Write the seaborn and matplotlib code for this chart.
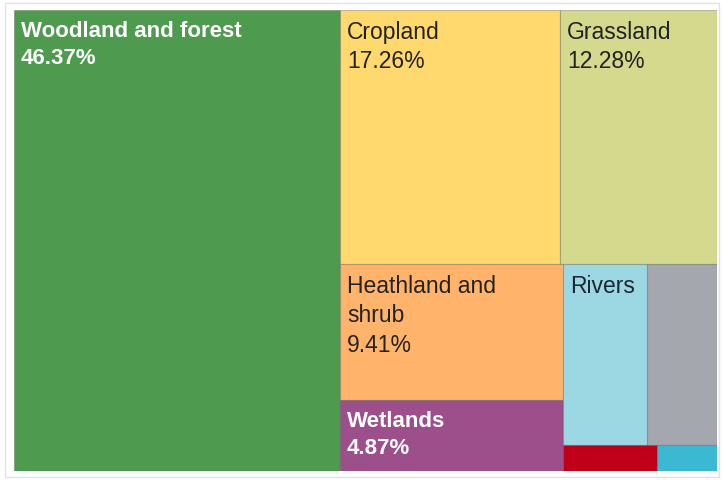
import matplotlib
matplotlib.use("Agg")
import matplotlib.pyplot as plt
from matplotlib.patches import Rectangle
import seaborn as sns

# Habitat shares (% of total area), largest first
habitats = ["Woodland and forest", "Cropland", "Grassland", "Heathland and\nshrub",
            "Wetlands", "Rivers", "Urban", "Bare ground", "Open water"]
shares = [46.37, 17.26, 12.28, 9.41, 4.87, 4.66, 3.92, 0.75, 0.48]
tile_colors = ["#4e9a4f", "#ffd96e", "#d5d98e", "#ffb36b", "#9c4f8a",
               "#9bd8e3", "#a4a7ae", "#c00019", "#3cb9d2"]
text_colors = ["#ffffff", "#222222", "#222222", "#222222", "#ffffff",
               "#1f2733", "#222222", "#222222", "#222222"]
# what each tile prints: name and percentage, name only, or nothing
label_content = ["both", "both", "both", "both", "both", "name", "none", "none", "none"]


def squarify(values, x0, y0, x1, y1, ratio):
    """Squarified treemap (Bruls et al.) with a target aspect ratio."""
    rects = []
    n = len(values)
    remaining = float(sum(values))
    i0 = 0
    while i0 < n:
        dx, dy = x1 - x0, y1 - y0
        i1 = i0 + 1
        s = values[i0]
        vmin = vmax = s
        alpha = max(dy / dx, dx / dy) / (remaining * ratio)
        beta = s * s * alpha
        best = max(vmax / beta, beta / vmin)
        while i1 < n:
            v = values[i1]
            s2 = s + v
            lo, hi = min(vmin, v), max(vmax, v)
            beta = s2 * s2 * alpha
            score = max(hi / beta, beta / lo)
            if score > best:
                break
            s, vmin, vmax, best = s2, lo, hi, score
            i1 += 1
        row = values[i0:i1]
        if dx < dy:
            # strip across the top, split along x
            y_end = y0 + dy * s / remaining if i1 < n else y1
            xx = x0
            for v in row:
                w = dx * v / s
                rects.append((xx, y0, w, y_end - y0))
                xx += w
            y0 = y_end
        else:
            # column on the left, split along y
            x_end = x0 + dx * s / remaining if i1 < n else x1
            yy = y0
            for v in row:
                h = dy * v / s
                rects.append((x0, yy, x_end - x0, h))
                yy += h
            x0 = x_end
        remaining -= s
        i0 = i1
    return rects


sns.set_theme(style="white")
plt.rcParams["font.family"] = ["Liberation Sans", "DejaVu Sans"]
palette = sns.color_palette(tile_colors)

W_PX, H_PX = 722, 481
fig = plt.figure(figsize=(W_PX / 100, H_PX / 100), dpi=100)
fig.patch.set_facecolor("white")

# plotting region in pixels
left, top, right, bottom = 14, 11, 717, 472
pw, ph = right - left, bottom - top
ax = fig.add_axes([left / W_PX, 1 - bottom / H_PX, pw / W_PX, ph / H_PX])
ax.set_xlim(0, pw)
ax.set_ylim(ph, 0)
ax.set_axis_off()

tiles = squarify(shares, 0, 0, pw, ph, ratio=1.55)

for (x, y, w, h), name, share, col, tcol, mode in zip(
        tiles, habitats, shares, palette, text_colors, label_content):
    ax.add_patch(Rectangle((x, y), w, h, facecolor=col,
                           edgecolor=(0.35, 0.35, 0.3, 0.35), linewidth=0.8))
    if mode == "none":
        continue
    text = name if mode == "name" else f"{name}\n{share:.2f}%"
    bold = tcol == "#ffffff"
    ax.text(x + 7, y + 10, text, color=tcol,
            fontsize=16.0 if bold else 16.5,
            fontweight="bold" if bold else "normal",
            ha="left", va="top", linespacing=1.36)

# light outer frame
fig.add_artist(Rectangle((4.5 / W_PX, 1 - 478 / H_PX), 714 / W_PX, 474.5 / H_PX,
                         transform=fig.transFigure, fill=False,
                         edgecolor="#e2e2e2", linewidth=1.0))

fig.savefig("out.png", dpi=100, facecolor="white")
